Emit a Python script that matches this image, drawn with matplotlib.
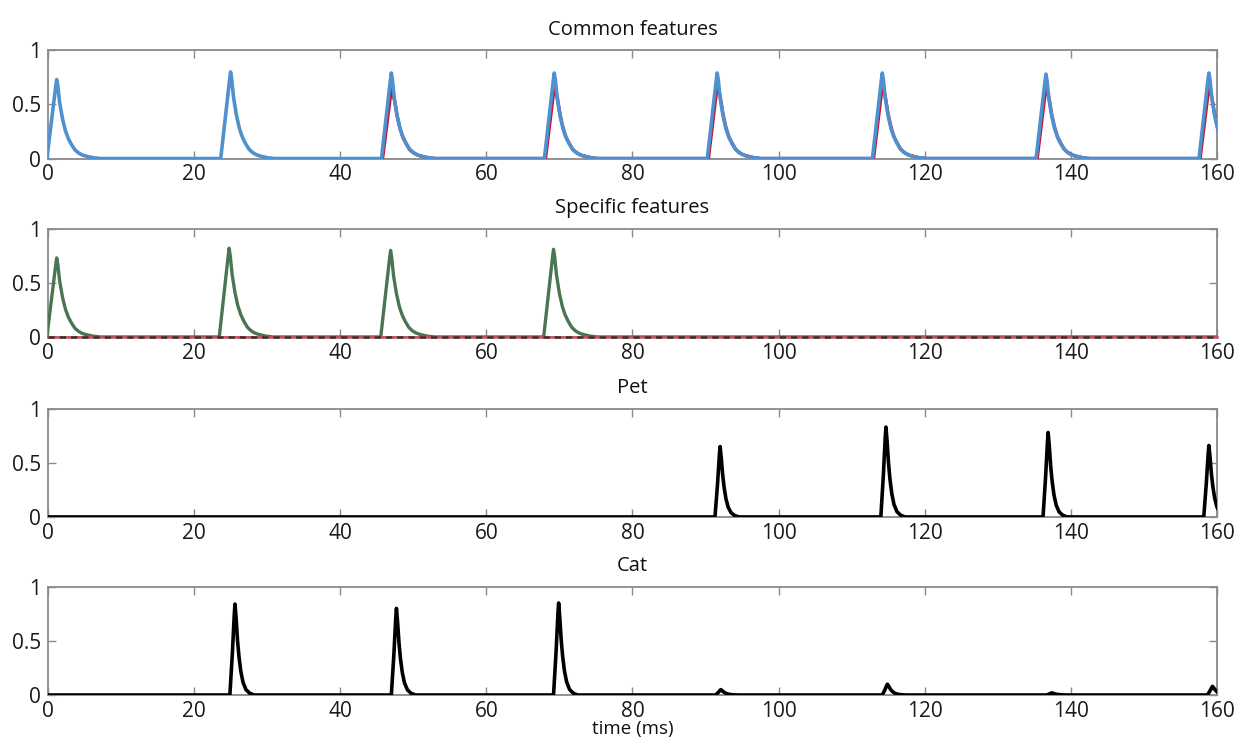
import numpy as np
import matplotlib
matplotlib.use('Agg')
import matplotlib.pyplot as plt

plt.rcParams['font.family'] = ['Open Sans', 'DejaVu Sans']

# pulse shapes: time offsets from the peak (ms) and value relative to peak
wide_offsets = [-1.35, -0.15, 0.0, 0.15, 0.4, 0.8, 1.2, 1.6, 2.0, 2.5, 3.0, 3.5, 4.0, 5.0, 6.0]
wide_shape = [0.0, 0.9, 1.0, 0.92, 0.71, 0.50, 0.35, 0.25, 0.18, 0.11, 0.07, 0.045, 0.03, 0.01, 0.0]
red_offsets = [-1.2, -0.1, 0.0, 0.15, 0.4, 0.8, 1.2, 1.6, 2.0, 2.5, 3.0, 3.5, 4.0, 5.0, 6.0]
red_shape = [0.0, 0.92, 1.0, 0.95, 0.86, 0.61, 0.43, 0.30, 0.22, 0.13, 0.085, 0.055, 0.037, 0.012, 0.0]
narrow_offsets = [-0.7, -0.35, -0.1, 0.0, 0.15, 0.35, 0.55, 0.8, 1.1, 1.5, 2.0, 2.6]
narrow_shape = [0.0, 0.47, 0.88, 1.0, 0.85, 0.6, 0.42, 0.26, 0.14, 0.06, 0.02, 0.0]

# common features
blue_peaks = [1.2, 25.0, 47.0, 69.3, 91.6, 114.2, 136.6, 158.9]
blue_heights = [0.73, 0.80, 0.79, 0.79, 0.79, 0.79, 0.78, 0.79]
red_peaks = [47.0, 69.3, 91.6, 114.2, 136.6, 158.9]
red_heights = [0.64, 0.66, 0.67, 0.67, 0.66, 0.66]

# specific features
green_peaks = [1.2, 24.8, 46.9, 69.2]
green_heights = [0.73, 0.82, 0.80, 0.81]

# Pet / Cat
pet_peaks = [92.0, 114.7, 136.9, 158.9]
pet_heights = [0.65, 0.83, 0.78, 0.66]
cat_peaks = [25.6, 47.7, 69.9, 92.1, 114.9, 137.4, 159.4]
cat_heights = [0.84, 0.80, 0.85, 0.05, 0.10, 0.02, 0.08]

t_end = 160.0
xticks = [0, 20, 40, 60, 80, 100, 120, 140, 160]
yticks = [0, 0.5, 1]
yticklabels = ['0', '0.5', '1']
titles = ['Common features', 'Specific features', 'Pet', 'Cat']


def trace(peaks, heights, offs, shape, pad_ends=True):
    xs, ys = [], []
    for tp, h in zip(peaks, heights):
        xs += [tp + o for o in offs]
        ys += [h * s for s in shape]
    if pad_ends and xs[0] > 0:
        xs.insert(0, 0.0)
        ys.insert(0, 0.0)
    if pad_ends and xs[-1] < t_end:
        xs.append(t_end)
        ys.append(0.0)
    return np.array(xs), np.array(ys)


fig = plt.figure(figsize=(12.42, 7.45), dpi=100, facecolor='white')
left, width, height = 0.0386, 0.9412, 0.1453
bottoms = [0.7872, 0.5477, 0.3061, 0.0671]
axes = [fig.add_axes([left, b, width, height]) for b in bottoms]

grey = '#8a8a8a'
for ax, title in zip(axes, titles):
    ax.set_xlim(0, t_end)
    ax.set_ylim(0, 1)
    ax.set_xticks(xticks)
    ax.set_yticks(yticks)
    ax.set_yticklabels(yticklabels)
    ax.tick_params(direction='in', length=6, width=1.0, color=grey,
                   top=True, right=True, labelsize=15, labelcolor='#1a1a1a')
    ax.tick_params(axis='x', pad=4)
    ax.tick_params(axis='y', pad=5)
    for sp in ax.spines.values():
        sp.set_color(grey)
        sp.set_linewidth(1.3)
    ax.set_title(title, fontsize=14.5, pad=11, color='#111111')

kw = dict(solid_joinstyle='round', solid_capstyle='round', zorder=3)

ax = axes[0]
# red response sits underneath the blue one; only its onsets show
x, y = trace(red_peaks, red_heights, red_offsets, red_shape, pad_ends=False)
ax.plot(x, y, color='#c4122f', lw=2.4, **kw)
x, y = trace(blue_peaks, blue_heights, wide_offsets, wide_shape)
ax.plot(x, y, color='#4f91cf', lw=2.6, **kw)

ax = axes[1]
x, y = trace(green_peaks, green_heights, wide_offsets, wide_shape)
ax.plot(x, y, color='#4a7552', lw=2.4, **kw)
ax.plot([0, t_end], [0, 0], color='#d04a5a', lw=1.8, clip_on=False, zorder=4)
ax.plot([0, t_end], [0, 0], color='#333333', lw=1.8, ls=(0, (2.5, 2)), clip_on=False, zorder=4)

ax = axes[2]
x, y = trace(pet_peaks, pet_heights, narrow_offsets, narrow_shape)
ax.plot(x, y, color='black', lw=2.6, **kw)

ax = axes[3]
x, y = trace(cat_peaks, cat_heights, narrow_offsets, narrow_shape)
ax.plot(x, y, color='black', lw=2.6, **kw)
ax.set_xlabel('time (ms)', fontsize=13.5, labelpad=-1, color='#111111')

fig.savefig('out.png', dpi=100, facecolor='white')
